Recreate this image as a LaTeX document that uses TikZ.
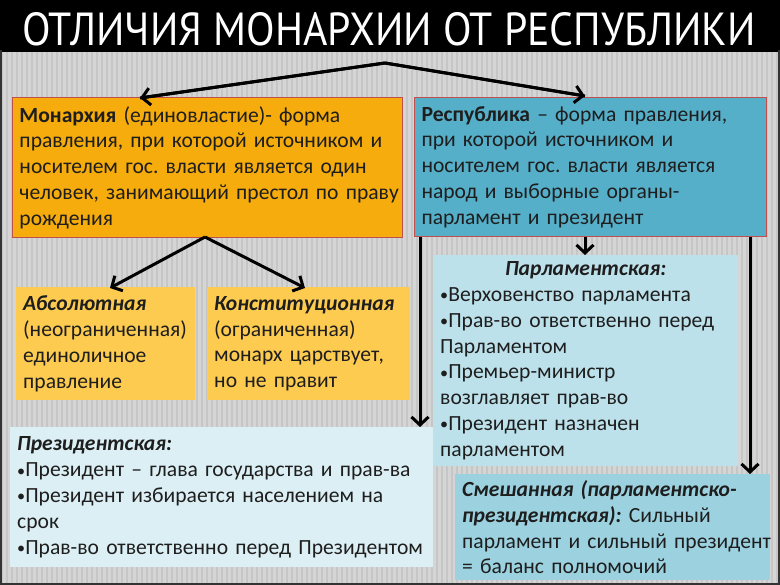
\documentclass[tikz,border=0pt]{standalone}
\usepackage{fontspec}
\setmainfont{Carlito}
\newfontfamily\titlefont{PT Sans}
\usetikzlibrary{arrows.meta}
\frenchspacing
\definecolor{monfill}{HTML}{F5AC0C}
\definecolor{repfill}{HTML}{55AFC9}
\definecolor{goldfill}{HTML}{FDCB50}
\definecolor{parfill}{HTML}{BDE1EA}
\definecolor{prsfill}{HTML}{DCEFF4}
\definecolor{mixfill}{HTML}{9CD2E0}
\definecolor{boxedge}{HTML}{C0504D}
\definecolor{bggray}{HTML}{D5D5D5}
\definecolor{stripe}{HTML}{C6C6C6}
\definecolor{txt}{HTML}{1E1E1E}
\newcommand{\bul}{\raisebox{0.5pt}{\scalebox{0.75}{•}}}
\newcommand{\lineL}[1]{\leavevmode\rlap{#1}}
\newcommand{\lineC}[1]{\leavevmode\makebox[\linewidth]{#1}}
\newcommand{\boxfont}{\fontsize{21.6pt}{25.8pt}\selectfont\fontdimen2\font=4.2pt\fontdimen3\font=0pt\fontdimen4\font=0pt}
\tikzset{
  box/.style={anchor=north west, inner xsep=7pt, inner ysep=3pt, align=left,
    font=\boxfont, text=txt},
  arr/.style={line width=3pt, -{Straight Barb[length=8pt,width=17pt,line width=3pt]}},
}
\begin{document}
\begin{tikzpicture}[x=1pt,y=-1pt]
\useasboundingbox (0,0) rectangle (780,585);
% background
\fill[bggray] (0,50) rectangle (780,585);
\foreach \i in {0,5,...,780} {\draw[stripe, line width=1.5pt] (\i+2,50) -- (\i+2,585);}
\fill[black] (0,0) rectangle (780,52);
\draw[black!80, line width=2pt] (1,50) -- (1,584) -- (779,584) -- (779,50);
\node[anchor=center, text=white, inner sep=0pt] (title) at (389,29)
  {\resizebox{733pt}{33pt}{\titlefont ОТЛИЧИЯ МОНАРХИИ ОТ РЕСПУБЛИКИ}};
% main boxes
\node[box, fill=monfill, draw=boxedge, line width=1pt, minimum width=390pt, minimum height=140pt, text width=376pt] (mon) at (12,97)
  {\lineL{\textbf{Монархия} (единовластие)- форма}\\\lineL{правления, при которой источником и}\\\lineL{носителем гос. власти является один}\\\lineL{человек, занимающий престол по праву}\\\lineL{рождения}};
\node[box, fill=repfill, draw=boxedge, line width=1pt, minimum width=352pt, minimum height=139pt, text width=338pt] (rep) at (414,97)
  {\lineL{\textbf{Республика} -- форма правления,}\\\lineL{при которой источником и}\\\lineL{носителем гос. власти является}\\\lineL{народ и выборные органы-}\\\lineL{парламент и президент}};
% monarchy kinds
\node[box, fill=goldfill, minimum width=179pt, minimum height=113pt, text width=165pt] (abs) at (16,287)
  {\lineL{\textbf{\textit{Абсолютная}}}\\\lineL{(неограниченная)}\\\lineL{единоличное}\\\lineL{правление}};
\node[box, fill=goldfill, minimum width=203pt, minimum height=113pt, text width=189pt] (con) at (207,287)
  {\lineL{\textbf{\textit{Конституционная}}}\\\lineL{(ограниченная)}\\\lineL{монарх царствует,}\\\lineL{но не правит}};
% republic kinds
\node[box, fill=parfill, minimum width=305pt, minimum height=211pt, text width=291pt] (par) at (433,255)
  {\lineC{\textbf{\textit{Парламентская:}}}\\\lineL{\bul Верховенство парламента}\\\lineL{\bul Прав-во ответственно перед}\\\lineL{Парламентом}\\\lineL{\bul Премьер-министр}\\\lineL{возглавляет прав-во}\\\lineL{\bul Президент назначен}\\\lineL{парламентом}};
\node[box, fill=prsfill, minimum width=423pt, minimum height=140pt, text width=409pt] (prs) at (10,427)
  {\lineL{\textbf{\textit{Президентская:}}}\\\lineL{\bul Президент -- глава государства и прав-ва}\\\lineL{\bul Президент избирается населением на}\\\lineL{срок}\\\lineL{\bul Прав-во ответственно перед Президентом}};
\node[box, fill=mixfill, minimum width=315pt, minimum height=106pt, text width=301pt] (mix) at (455,474)
  {\lineL{\textbf{\textit{Смешанная (парламентско-}}}\\\lineL{\textbf{\textit{президентская):}} Сильный}\\\lineL{парламент и сильный президент}\\\lineL{= баланс полномочий}};
% connectors
\coordinate (apex) at (385,63);
\coordinate (monTop) at (140,98);
\coordinate (repTop) at (585,96);
\draw[line width=3pt, line join=round] (monTop) -- (apex) -- (repTop);
\draw[arr] (apex) -- (monTop);
\draw[arr] (apex) -- (repTop);
\coordinate (monBot) at (205,237);
\draw[arr] (monBot) -- (110,288);
\draw[arr] (monBot) -- (305,288);
\draw[arr] (rep.south -| 585,0) -- (par.north -| 585,0);
\draw[arr] (rep.south -| 420,0) -- (prs.north -| 420,0);
\draw[arr] (rep.south -| 750,0) -- (mix.north -| 750,0);
\end{tikzpicture}
\end{document}
